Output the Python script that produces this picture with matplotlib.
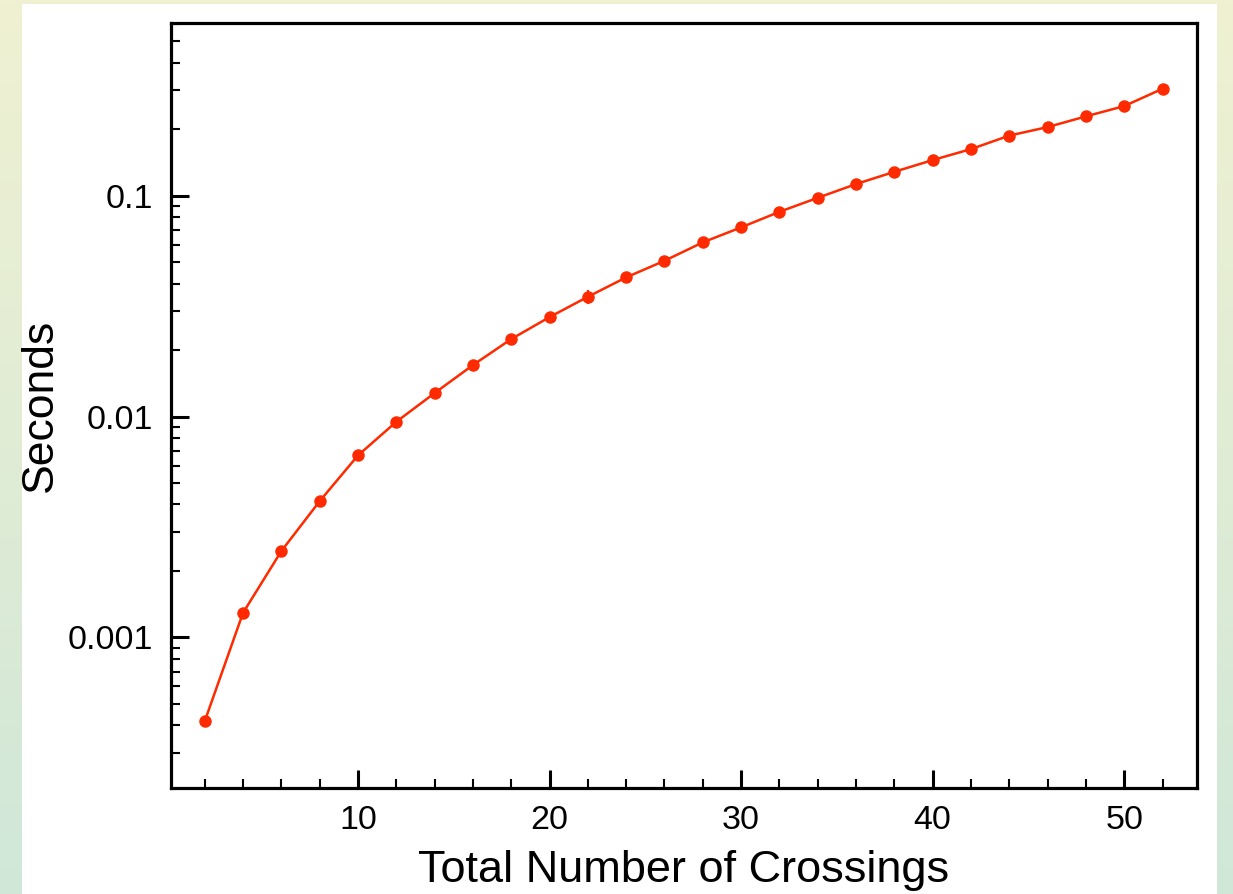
import numpy as np
import matplotlib
matplotlib.use("Agg")
import matplotlib.pyplot as plt
from matplotlib.patches import Rectangle
from matplotlib.ticker import LogLocator, FixedLocator, NullFormatter, FixedFormatter

plt.rcParams['font.family'] = ['Liberation Sans', 'DejaVu Sans']

# Timing results: total number of crossings vs. mean runtime (seconds)
crossings = [2, 4, 6, 8, 10, 12, 14, 16, 18, 20, 22, 24, 26,
             28, 30, 32, 34, 36, 38, 40, 42, 44, 46, 48, 50, 52]
seconds = [4.17e-4, 1.292e-3, 2.46e-3, 4.14e-3, 6.67e-3, 9.47e-3, 0.01278,
           0.01711, 0.02244, 0.02822, 0.03488, 0.04270, 0.05077, 0.06151,
           0.07193, 0.0846, 0.0979, 0.1130, 0.1284, 0.1451, 0.1627, 0.1873,
           0.2047, 0.2289, 0.2548, 0.3052]
seconds_err = [0.235e-4, 0.0, 0.0, 0.0, 0.0, 0.0, 0.0, 0.0, 0.0, 0.0,
               0.0025, 0.0, 0.0, 0.0, 0.0, 0.0, 0.0, 0.0, 0.0, 0.0,
               0.0, 0.0, 0.0, 0.0, 0.0, 0.0]

x_ticks = [10, 20, 30, 40, 50]
x_tick_labels = ["10", "20", "30", "40", "50"]
y_ticks = [0.001, 0.01, 0.1]
y_tick_labels = ["0.001", "0.01", "0.1"]

W, H, DPI = 1233, 894, 100
fig = plt.figure(figsize=(W / DPI, H / DPI), dpi=DPI)

# soft yellow-to-green backdrop behind a white sheet
bg = fig.add_axes([0, 0, 1, 1], zorder=-10)
bg.set_axis_off()
top_c = np.array([240, 241, 210]) / 255.0
bot_c = np.array([208, 231, 216]) / 255.0
t = np.linspace(0, 1, 256)[:, None]
grad = (1 - t) * top_c + t * bot_c
bg.imshow(grad[:, None, :].repeat(4, axis=1), aspect='auto',
          extent=[0, 1, 0, 1], origin='upper')
bg.set_xlim(0, 1)
bg.set_ylim(0, 1)
bg.add_patch(Rectangle((22 / W, 0), (1217 - 22) / W, (H - 4) / H,
                       facecolor='white', edgecolor='none',
                       transform=bg.transAxes))

ax = fig.add_axes([171 / W, 1 - 788 / H, (1197 - 171) / W, (788 - 23) / H])
ax.set_facecolor('white')

red = '#ff2a00'
ax.errorbar(crossings, seconds, yerr=seconds_err, color=red, marker='o',
            markersize=9, linewidth=1.8, elinewidth=1.6, capsize=8.5,
            capthick=1.6, markeredgewidth=0)

ax.set_yscale('log')
ax.set_xlim(0.24, 53.8)
ax.set_ylim(2.08e-4, 0.606)

ax.xaxis.set_major_locator(FixedLocator(x_ticks))
ax.xaxis.set_major_formatter(FixedFormatter(x_tick_labels))
ax.xaxis.set_minor_locator(FixedLocator([v for v in range(2, 54, 2) if v % 10]))
ax.yaxis.set_major_locator(FixedLocator(y_ticks))
ax.yaxis.set_major_formatter(FixedFormatter(y_tick_labels))
ax.yaxis.set_minor_locator(LogLocator(base=10, subs=np.arange(2, 10)))
ax.yaxis.set_minor_formatter(NullFormatter())

for s in ax.spines.values():
    s.set_linewidth(2.3)
    s.set_color('black')

ax.tick_params(which='both', direction='in', top=False, right=False,
               color='black', labelsize=24.5)
ax.tick_params(axis='x', which='major', length=13, width=2.2, pad=12)
ax.tick_params(axis='y', which='major', length=13, width=2.2, pad=13)
ax.tick_params(which='minor', length=6.5, width=1.5)

ax.set_xlabel('Total Number of Crossings', fontsize=32.5, labelpad=10)
ax.set_ylabel('Seconds', fontsize=32, labelpad=5)

fig.savefig('out.png', dpi=DPI)
